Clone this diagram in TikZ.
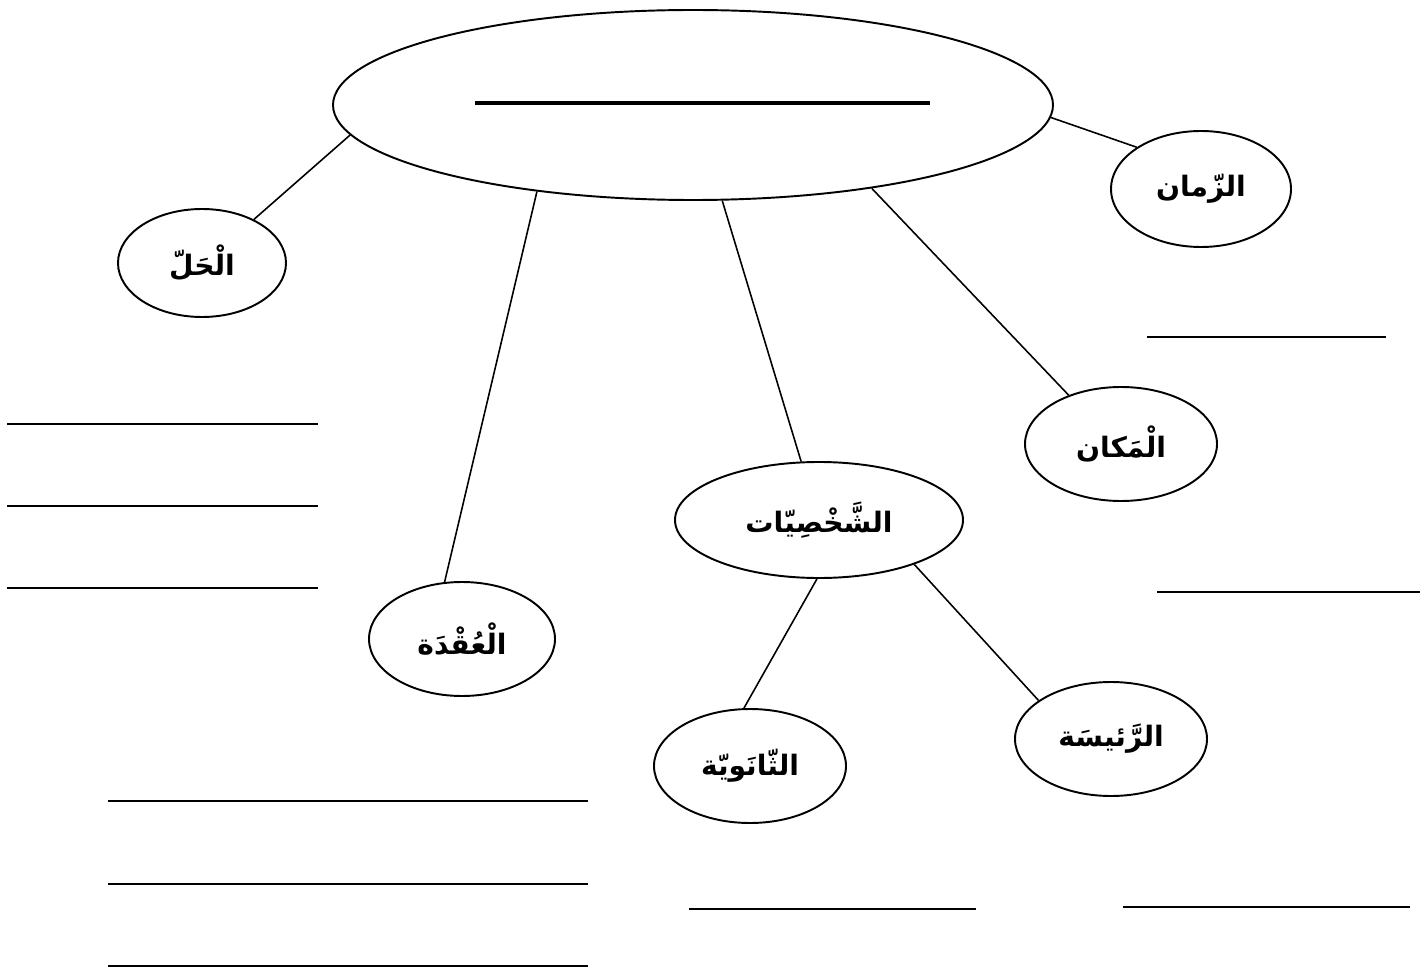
\documentclass[tikz,border=0pt]{standalone}
\usepackage{fontspec}
\newfontfamily\arabicfont[Script=Arabic]{DejaVu Sans}
\TeXXeTstate=1
\usetikzlibrary{shapes.geometric}
\newcommand{\artxt}[1]{{\arabicfont\bfseries\beginR #1\endR}}

\begin{document}
\begin{tikzpicture}[x=0.02cm,y=-0.02cm,
		bubble/.style={draw,ellipse,line width=1.1pt,inner sep=0pt,font=\fontsize{16}{16}\selectfont},
		link/.style={line width=0.9pt},
		blank/.style={line width=0.9pt}]
				\def\px{0.02cm};
				\useasboundingbox (0,0) rectangle (1426,969);
				% the ellipses
				\node[bubble,minimum width=720*\px,minimum height=190*\px] (topic) at (693,105) {};
				\node[bubble,minimum width=180*\px,minimum height=116*\px] (zaman) at (1201,189) {\artxt{الزّمان}};
				\node[bubble,minimum width=168*\px,minimum height=108*\px] (hall) at (202,263) {\artxt{الْحَلّ}};
				\node[bubble,minimum width=288*\px,minimum height=116*\px] (shakhs) at (819,520) {\artxt{الشَّخْصِيّات}};
				\node[bubble,minimum width=192*\px,minimum height=114*\px] (makan) at (1121,444) {\artxt{الْمَكان}};
				\node[bubble,minimum width=186*\px,minimum height=114*\px] (uqda) at (462,639) {\artxt{الْعُقْدَة}};
				\node[bubble,minimum width=192*\px,minimum height=114*\px] (thanawi) at (750,766) {\artxt{الثّانَويّة}};
				\node[bubble,minimum width=192*\px,minimum height=114*\px] (raisa) at (1111,739) {\artxt{الرَّئيسَة}};
				\draw[line width=2.3pt] (475,103) -- (930,103);
				% the links
				\draw[link] (topic.-2) -- (zaman.147)
				(topic.185) -- (hall.40)
				(topic.209) -- (uqda.107)
				(topic.-73) -- (shakhs.107)
				(topic.-25) -- (makan.137)
				(shakhs.-92) -- (thanawi.96)
				(shakhs.-25) -- (raisa.152);
				% lines to write on
				\foreach \xa/\xb/\yy in {1147/1386/337, 7/318/424, 7/318/506, 7/318/588, 1157/1420/592,
					108/588/801, 108/588/884, 108/588/966, 689/976/909, 1123/1410/907}
				\draw[blank] (\xa,\yy) -- (\xb,\yy);
			\end{tikzpicture}
\end{document}
